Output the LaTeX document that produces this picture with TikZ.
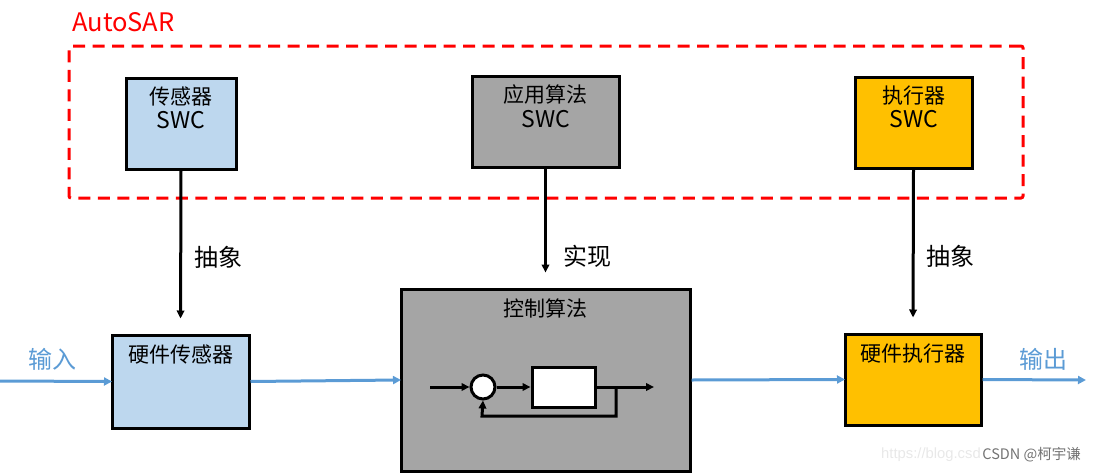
\documentclass[tikz,border=0pt]{standalone}
\usepackage{xcolor}
\usepackage{fontspec}
\setmainfont{Noto Sans CJK SC}
\setsansfont{Liberation Sans}
\usetikzlibrary{arrows.meta, positioning}
\definecolor{lineblue}{HTML}{5B9BD5}
\definecolor{sensorblue}{HTML}{BDD7EE}
\definecolor{algogray}{HTML}{A5A5A5}
\definecolor{actgold}{HTML}{FFC000}
\newcommand{\swctext}{\fontsize{23}{25}\selectfont SWC}

\begin{document}
\begin{tikzpicture}[
    x=1pt, y=-1pt,
    font=\fontsize{21}{25}\selectfont,
    block/.style={rectangle, draw=black, line width=3pt, inner sep=0pt, align=center},
    toplabel/.style={anchor=north, inner sep=0pt, align=center, text=black,
                     font=\fontsize{21}{25}\selectfont},
    arr/.style={-{Triangle[length=8pt, width=7.5pt]}, line width=3pt, black},
    inarr/.style={-{Triangle[length=8pt, width=8pt]}, line width=3pt, lineblue, shorten >=-1.5pt},
    tag/.style={inner sep=0pt, font=\fontsize{24}{28}\selectfont},
]
\useasboundingbox (0,0) rectangle (1096,472);

% Dashed AutoSAR frame
\node[rectangle, draw=red, line width=3pt, dash pattern=on 12pt off 7.5pt, rounded corners=2pt,
      minimum width=954pt, minimum height=152pt, inner sep=0pt] (autosar) at (546,122) {};
\node[inner sep=0pt, text=red, font=\fontsize{25.5}{30}\selectfont, anchor=west] (autosarlab) at (72,22) {AutoSAR};

% SWC row
\node[block, fill=sensorblue, minimum width=110pt, minimum height=91pt] (swc_s) at (181,123.5) {};
\node[toplabel, yshift=-10pt] (swc_s_t) at (swc_s.north) {传感器\\[-1pt]\swctext};
\node[block, fill=algogray, minimum width=147pt, minimum height=91pt] (swc_a) at (545.5,121.5) {};
\node[toplabel, yshift=-10pt] (swc_a_t) at (swc_a.north) {应用算法\\\swctext};
\node[block, fill=actgold, minimum width=117pt, minimum height=91pt] (swc_e) at (913.5,122.5) {};
\node[toplabel, yshift=-10pt] (swc_e_t) at (swc_e.north) {执行器\\[-1pt]\swctext};

% Hardware row
\node[block, fill=sensorblue, minimum width=137pt, minimum height=93pt] (hw_s) at (180.5,381.5) {};
\node[toplabel, yshift=-11pt] (hw_s_t) at (hw_s.north) {硬件传感器};
\node[block, fill=algogray, minimum width=289pt, minimum height=182pt] (ctrl) at (545.5,380) {};
\node[toplabel, yshift=-11pt] (ctrl_t) at (ctrl.north) {控制算法};
\node[block, fill=actgold, minimum width=136pt, minimum height=91pt] (hw_e) at (913,379.5) {};
\node[toplabel, yshift=-11pt] (hw_e_t) at (hw_e.north) {硬件执行器};

% Loop inside the control block
\node[circle, draw=black, line width=3pt, fill=white, minimum size=24pt, inner sep=0pt] (sum) at (483,387) {};
\node[rectangle, draw=black, line width=3pt, fill=white, minimum width=63pt, minimum height=40pt, inner sep=0pt] (plant) at (563.5,387) {};
\coordinate (loop_in) at (430,387);
\coordinate (loop_out) at (654,387);
\coordinate (loop_br) at (616,387);
\draw[arr] (loop_in) -- (sum.west);
\draw[arr] (sum.east) -- (plant.west);
\draw[arr] (plant.east) -- (loop_out);
\draw[arr] (loop_br) |- (482,416) -- (sum.south);

% Abstraction arrows
\draw[arr, shorten >=15pt] (swc_s.south) -- (hw_s.north) node[pos=0.53, right=12pt, tag] (lab1) {抽象};
\draw[arr, shorten >=15pt] (swc_a.south) -- (ctrl.north) node[pos=0.74, right=16pt, tag] (lab2) {实现};
\draw[arr, shorten >=15pt] (swc_e.south) -- (hw_e.north) node[pos=0.535, right=12pt, tag] (lab3) {抽象};

% Signal path
\coordinate (sig_in) at (0,381);
\coordinate (sig_out) at (1084.5,380);
\draw[inarr] (sig_in) -- (hw_s.west);
\draw[inarr] (hw_s.east) -- (ctrl.west);
\draw[inarr] (ctrl.east) -- (hw_e.west);
\draw[inarr] (hw_e.east) -- (sig_out);
\node[tag, text=lineblue] (inlab) at (52,359) {输入};
\node[tag, text=lineblue] (outlab) at (1043,359) {输出};

% Watermark
\node[inner sep=0pt, anchor=west, text=black!9, font=\sffamily\fontsize{14.8}{18}\selectfont] (wm_url) at (881,455) {https://blog.csd};
\node[inner sep=0pt, anchor=east, text=black!55, font=\fontsize{14.5}{17}\selectfont] (wm) at (1081,455) {CSDN @柯宇谦};
\end{tikzpicture}
\end{document}
